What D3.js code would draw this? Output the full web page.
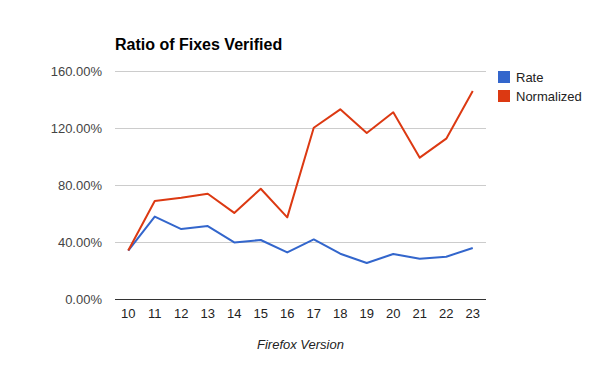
<!DOCTYPE html>
<html>
<head>
<meta charset="utf-8">
<script src="https://cdnjs.cloudflare.com/ajax/libs/d3/7.8.5/d3.min.js"></script>
<style>
  body { margin: 0; background: #fff; }
  text { font-family: "Liberation Sans", Arial, sans-serif; }
</style>
</head>
<body>
<div id="chart"></div>
<script>
var versions = ["10","11","12","13","14","15","16","17","18","19","20","21","22","23"];
var rate = [34, 57.8, 49.1, 51.2, 39.7, 41.4, 32.7, 41.8, 31.8, 25.3, 31.6, 28.3, 29.7, 35.8];
var normalized = [34, 68.8, 71.1, 73.9, 60.4, 77.4, 57.3, 120.2, 133.1, 116.5, 131, 99.2, 112.5, 146];
var yTicks = [0, 40, 80, 120, 160];
var seriesNames = ["Rate", "Normalized"];
var colors = ["#3366cc", "#dc3912"];

var width = 600, height = 371;
var plotLeft = 115, plotRight = 486, plotTop = 71, plotBottom = 299;

var svg = d3.select("#chart").append("svg")
    .attr("width", width).attr("height", height);

var x = d3.scalePoint().domain(versions).range([plotLeft, plotRight]).padding(0.5);
var y = d3.scaleLinear().domain([0, 160]).range([plotBottom, plotTop]);

// gridlines
svg.append("g").selectAll("line")
    .data(yTicks.slice(1))
  .enter().append("line")
    .attr("x1", plotLeft).attr("x2", plotRight)
    .attr("y1", function(d) { return Math.round(y(d)) + 0.5; })
    .attr("y2", function(d) { return Math.round(y(d)) + 0.5; })
    .attr("stroke", "#cccccc").attr("stroke-width", 1);

// y labels
svg.append("g").selectAll("text")
    .data(yTicks)
  .enter().append("text")
    .attr("x", plotLeft - 13)
    .attr("y", function(d) { return y(d); })
    .attr("dy", "0.35em")
    .attr("text-anchor", "end")
    .attr("font-size", 13)
    .attr("fill", "#444")
    .text(function(d) { return d.toFixed(2) + "%"; });

// x labels
svg.append("g").selectAll("text")
    .data(versions)
  .enter().append("text")
    .attr("x", function(d) { return x(d); })
    .attr("y", 318)
    .attr("text-anchor", "middle")
    .attr("font-size", 13)
    .attr("fill", "#222")
    .text(function(d) { return d; });

// baseline
svg.append("line")
    .attr("x1", plotLeft).attr("x2", plotRight)
    .attr("y1", Math.round(y(0)) + 0.5).attr("y2", Math.round(y(0)) + 0.5)
    .attr("stroke", "#333").attr("stroke-width", 1);

var line = d3.line()
    .x(function(d, i) { return x(versions[i]); })
    .y(function(d) { return y(d); });

[rate, normalized].forEach(function(vals, i) {
  svg.append("path")
      .datum(vals)
      .attr("d", line)
      .attr("fill", "none")
      .attr("stroke", colors[i])
      .attr("stroke-width", 2)
      .attr("stroke-linejoin", "round");
});

// title
svg.append("text")
    .attr("x", 115).attr("y", 50)
    .attr("font-size", 16).attr("font-weight", "bold")
    .attr("fill", "#000")
    .text("Ratio of Fixes Verified");

// axis title
svg.append("text")
    .attr("x", (plotLeft + plotRight) / 2).attr("y", 349)
    .attr("text-anchor", "middle")
    .attr("font-size", 13).attr("font-style", "italic")
    .attr("fill", "#222")
    .text("Firefox Version");

// legend
var legend = svg.append("g").selectAll("g")
    .data(seriesNames)
  .enter().append("g")
    .attr("transform", function(d, i) { return "translate(498," + (71 + i * 19) + ")"; });
legend.append("rect")
    .attr("width", 12).attr("height", 12)
    .attr("fill", function(d, i) { return colors[i]; });
legend.append("text")
    .attr("x", 18).attr("y", 6).attr("dy", "0.35em")
    .attr("font-size", 13).attr("fill", "#222")
    .text(function(d) { return d; });
</script>
</body>
</html>
